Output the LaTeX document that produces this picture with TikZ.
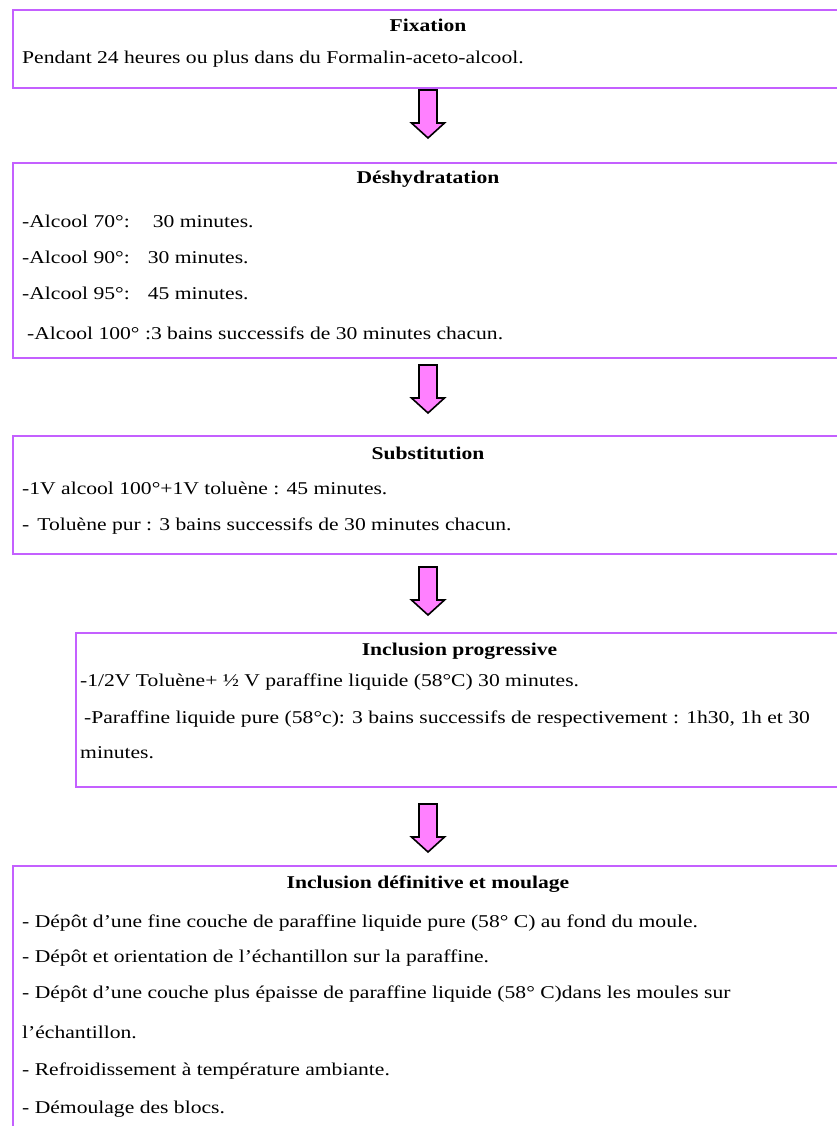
\documentclass[tikz,border=0pt]{standalone}
\usepackage{fontspec}
\setmainfont{Liberation Serif}[FakeStretch=1.2]
\definecolor{boxviolet}{RGB}{196,96,255}
\definecolor{arrowpink}{RGB}{255,128,255}
\tikzset{
  stagebox/.style={draw=boxviolet, line width=2.2pt, anchor=north west,
    inner sep=0pt, outer sep=0pt, minimum width=830pt},
  stagetitle/.style={anchor=base, inner sep=0pt,
    font=\fontsize{18}{20}\selectfont\bfseries},
  stageitem/.style={anchor=base west, inner sep=0pt,
    font=\fontsize{18}{20}\selectfont},
  downarrow/.pic={
    \draw[fill=arrowpink, line width=1.6pt, line join=miter]
      (-9,0) -- (9,0) -- (9,33) -- (16.5,33) -- (0,48)
      -- (-16.5,33) -- (-9,33) -- cycle;
  }
}
\begin{document}
\begin{tikzpicture}[x=1pt,y=-1pt]
\clip (0,0) rectangle (837,1126);
\fill[white] (0,0) rectangle (837,1126);

% Fixation
\node[stagebox, minimum height=78pt] (fix) at (13,10) {};
\node[stagetitle] (fixT) at (428,32) {Fixation};
\node[stageitem] (fix1) at (22,64) {Pendant 24 heures ou plus dans du Formalin-aceto-alcool.};

\pic at (428,90) {downarrow};

% Déshydratation
\node[stagebox, minimum height=195pt] (desh) at (13,163) {};
\node[stagetitle] (deshT) at (428,183) {Déshydratation};
\node[stageitem] (desh1) at (22,227) {-Alcool 70°:\hspace{23pt}30 minutes.};
\node[stageitem] (desh2) at (22,263) {-Alcool 90°:\hspace{18pt}30 minutes.};
\node[stageitem] (desh3) at (22,299) {-Alcool 95°:\hspace{18pt}45 minutes.};
\node[stageitem] (desh4) at (27,339) {-Alcool 100° :3 bains successifs de 30 minutes chacun.};

\pic at (428,365) {downarrow};

% Substitution
\node[stagebox, minimum height=118pt] (subst) at (13,436) {};
\node[stagetitle] (substT) at (428,459) {Substitution};
\node[stageitem] (subst1) at (22,494) {-1V alcool 100°+1V toluène : 45 minutes.};
\node[stageitem] (subst2) at (22,530) {-\hspace{8pt}Toluène pur : 3 bains successifs de 30 minutes chacun.};

\pic at (428,567) {downarrow};

% Inclusion progressive
\node[stagebox, minimum width=767pt, minimum height=154pt] (incp) at (76,633) {};
\node[stagetitle] (incpT) at (459.5,655) {Inclusion progressive};
\node[stageitem] (incp1) at (80,686) {-1/2V Toluène+ ½ V paraffine liquide (58°C) 30 minutes.};
\node[stageitem] (incp2) at (84,723) {-Paraffine liquide pure (58°c): 3 bains successifs de respectivement : 1h30, 1h et 30};
\node[stageitem] (incp3) at (80,758) {minutes.};

\pic at (428,804) {downarrow};

% Inclusion définitive et moulage
\node[stagebox, minimum height=274pt] (incd) at (13,866) {};
\node[stagetitle] (incdT) at (428,888) {Inclusion définitive et moulage};
\node[stageitem] (incd1) at (22,927) {- Dépôt d’une fine couche de paraffine liquide pure (58° C) au fond du moule.};
\node[stageitem] (incd2) at (22,962) {- Dépôt et orientation de l’échantillon sur la paraffine.};
\node[stageitem] (incd3) at (22,998) {- Dépôt d’une couche plus épaisse de paraffine liquide (58° C)dans les moules sur};
\node[stageitem] (incd4) at (22,1038) {l’échantillon.};
\node[stageitem] (incd5) at (22,1075) {- Refroidissement à température ambiante.};
\node[stageitem] (incd6) at (22,1113) {- Démoulage des blocs.};
\end{tikzpicture}
\end{document}
